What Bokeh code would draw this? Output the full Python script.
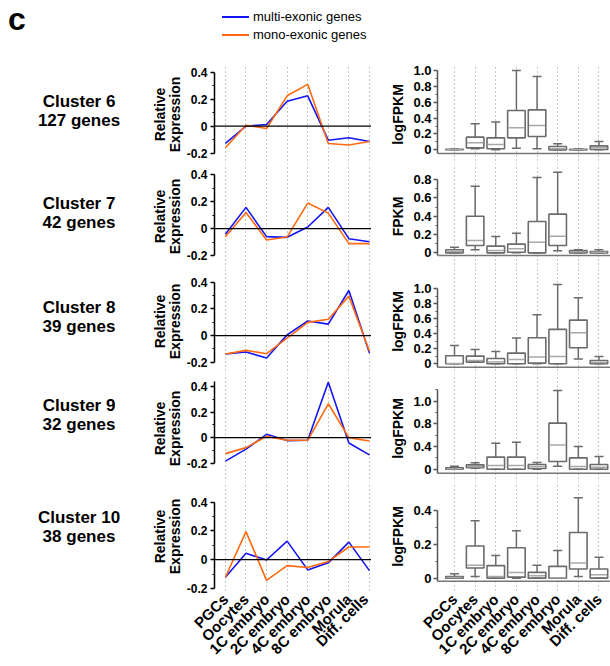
from math import pi
from bokeh.plotting import figure
from bokeh.models import Range1d, FixedTicker, Span, Div, ColumnDataSource
from bokeh.layouts import row, column
from bokeh.embed import file_html
from bokeh.resources import INLINE

# ---------------- data ----------------
stages = ["PGCs", "Oocytes", "1C embryo", "2C embryo", "4C embryo", "8C embryo", "Morula", "Diff. cells"]
clusters = ["Cluster 6", "Cluster 7", "Cluster 8", "Cluster 9", "Cluster 10"]
gene_counts = [127, 42, 39, 32, 38]
series_names = ["multi-exonic genes", "mono-exonic genes"]
box_ylabels = ["logFPKM", "FPKM", "logFPKM", "logFPKM", "logFPKM"]

multi_c6 = [-0.128, 0.0, 0.012, 0.185, 0.225, -0.104, -0.086, -0.114]
mono_c6 = [-0.16, 0.007, -0.017, 0.225, 0.31, -0.128, -0.14, -0.114]
multi_c7 = [-0.042, 0.158, -0.06, -0.065, 0.012, 0.158, -0.075, -0.098]
mono_c7 = [-0.06, 0.12, -0.085, -0.062, 0.19, 0.115, -0.112, -0.112]
multi_c8 = [-0.138, -0.123, -0.168, 0.005, 0.109, 0.086, 0.338, -0.13]
mono_c8 = [-0.138, -0.111, -0.136, -0.02, 0.099, 0.123, 0.296, -0.118]
multi_c9 = [-0.184, -0.09, 0.026, -0.023, -0.021, 0.434, -0.042, -0.135]
mono_c9 = [-0.125, -0.078, 0.01, -0.021, -0.021, 0.265, 0.0, -0.026]
multi_c10 = [-0.122, 0.044, -0.002, 0.129, -0.071, -0.022, 0.122, -0.076]
mono_c10 = [-0.122, 0.195, -0.144, -0.041, -0.054, -0.012, 0.088, 0.088]

# box plots: lower whisker, Q1, median, Q3, upper whisker
box_c6_low = [0.0, 0.013, 0.0, 0.021, 0.013, 0.0, 0.0, 0.0]
box_c6_q1 = [0.001, 0.025, 0.013, 0.151, 0.168, 0.0, 0.0, 0.004]
box_c6_med = [0.004, 0.088, 0.067, 0.277, 0.307, 0.013, 0.004, 0.025]
box_c6_q3 = [0.008, 0.16, 0.151, 0.496, 0.504, 0.042, 0.008, 0.05]
box_c6_high = [0.012, 0.328, 0.35, 1.0, 0.924, 0.076, 0.013, 0.105]

box_c7_low = [0.0, 0.033, 0.0, 0.0, 0.0, 0.022, 0.0, 0.0]
box_c7_q1 = [0.0, 0.08, 0.0, 0.007, 0.0, 0.08, 0.0, 0.0]
box_c7_med = [0.015, 0.135, 0.025, 0.044, 0.116, 0.182, 0.011, 0.006]
box_c7_q3 = [0.033, 0.4, 0.073, 0.095, 0.342, 0.422, 0.025, 0.015]
box_c7_high = [0.062, 0.727, 0.178, 0.215, 0.822, 0.88, 0.033, 0.033]

box_c8_low = [0.0, 0.022, 0.0, 0.0, 0.0, 0.0, 0.062, 0.0]
box_c8_q1 = [0.0, 0.022, 0.0, 0.0, 0.009, 0.0, 0.213, 0.0]
box_c8_med = [0.005, 0.044, 0.022, 0.058, 0.089, 0.098, 0.413, 0.018]
box_c8_q3 = [0.107, 0.102, 0.071, 0.142, 0.347, 0.458, 0.582, 0.044]
box_c8_high = [0.244, 0.191, 0.164, 0.342, 0.653, 1.058, 0.88, 0.098]

box_c9_low = [0.0, 0.018, 0.0, 0.0, 0.0, 0.053, 0.0, 0.0]
box_c9_q1 = [0.0, 0.024, 0.0, 0.0, 0.012, 0.135, 0.0, 0.0]
box_c9_med = [0.006, 0.041, 0.065, 0.065, 0.047, 0.429, 0.047, 0.035]
box_c9_q3 = [0.024, 0.076, 0.212, 0.212, 0.082, 0.812, 0.2, 0.082]
box_c9_high = [0.053, 0.112, 0.459, 0.476, 0.118, 1.388, 0.4, 0.224]

box_c10_low = [0.0, 0.01, 0.0, 0.0, 0.0, 0.0, 0.01, 0.0]
box_c10_q1 = [0.0, 0.06, 0.0, 0.006, 0.0, 0.0, 0.054, 0.0]
box_c10_med = [0.004, 0.076, 0.01, 0.034, 0.014, 0.002, 0.09, 0.02]
box_c10_q3 = [0.01, 0.19, 0.074, 0.18, 0.034, 0.07, 0.27, 0.054]
box_c10_high = [0.026, 0.34, 0.134, 0.28, 0.076, 0.164, 0.476, 0.124]

line_ticks = [-0.2, 0, 0.2, 0.4]
line_tick_labels = ["-0.2", "0", "0.2", "0.4"]
line_minor = [-0.1, 0.1, 0.3]

box_ticks = [[0, 0.2, 0.4, 0.6, 0.8, 1.0], [0, 0.2, 0.4, 0.6, 0.8], [0, 0.2, 0.4, 0.6, 0.8, 1.0],
             [0, 0.4, 0.8, 1.2], [0, 0.2, 0.4]]
box_tick_labels = [["0", "0.2", "0.4", "0.6", "0.8", "1.0"], ["0", "0.2", "0.4", "0.6", "0.8"],
                   ["0", "0.2", "0.4", "0.6", "0.8", "1.0"], ["0", "0.4", "0.8", "1.0"], ["0", "0.2", "0.4"]]
box_minor = [[0.1, 0.3, 0.5, 0.7, 0.9], [0.1, 0.3, 0.5, 0.7], [0.1, 0.3, 0.5, 0.7, 0.9],
             [0.2, 0.6, 1.0, 1.4], [0.1, 0.3]]

multi = [multi_c6, multi_c7, multi_c8, multi_c9, multi_c10]
mono = [mono_c6, mono_c7, mono_c8, mono_c9, mono_c10]
box_low = [box_c6_low, box_c7_low, box_c8_low, box_c9_low, box_c10_low]
box_q1 = [box_c6_q1, box_c7_q1, box_c8_q1, box_c9_q1, box_c10_q1]
box_med = [box_c6_med, box_c7_med, box_c8_med, box_c9_med, box_c10_med]
box_q3 = [box_c6_q3, box_c7_q3, box_c8_q3, box_c9_q3, box_c10_q3]
box_high = [box_c6_high, box_c7_high, box_c8_high, box_c9_high, box_c10_high]

# ---------------- style / layout ----------------
FONT = "Liberation Sans"
CSS_FONT = "'Liberation Sans',Arial,sans-serif"
BLUE = "#1414f5"
ORANGE = "#ff6a10"
BOX_C = "#6b6b6b"
MED_C = "#a8a8a8"
GRID_C = "#8c8c8c"

row_heights = [100, 104, 106, 108, 112]
header_h = 64
footer_h = 72
line_yranges = [(-0.284, 0.457), (-0.297, 0.477), (-0.292, 0.503), (-0.351, 0.494), (-0.214, 0.536)]
line_bounds = [(-0.2, 0.4), (-0.2, 0.4), (-0.2, 0.4), (-0.2, 0.44), (-0.2, 0.4)]
box_yranges = [(-0.185, 1.076), (-0.171, 0.964), (-0.143, 1.27), (-0.235, 1.671), (-0.073, 0.566)]
box_bounds = [(-0.047, 1.0), (-0.03, 0.8), (-0.045, 1.0), (-0.07, 1.4), (-0.018, 0.4)]
label_tops = [28, 130, 234, 332, 444]

x_idx = list(range(len(stages)))
stage_overrides = {i: s for i, s in enumerate(stages)}


def style_common(p, show_x):
    p.outline_line_color = None
    p.ygrid.visible = False
    p.xgrid.ticker = FixedTicker(ticks=x_idx)
    p.xgrid.grid_line_color = GRID_C
    p.xgrid.grid_line_dash = "1 3"
    p.xgrid.grid_line_width = 1
    xa = p.xaxis[0]
    xa.ticker = FixedTicker(ticks=x_idx)
    if show_x:
        xa.major_label_overrides = stage_overrides
        xa.major_label_orientation = pi / 4
        xa.axis_line_color = None
        xa.major_tick_line_color = None
        xa.minor_tick_line_color = None
        xa.major_label_standoff = 0
        xa.major_label_text_font = FONT
        xa.major_label_text_font_size = "15px"
        xa.major_label_text_font_style = "bold"
        xa.major_label_text_color = "black"
    else:
        xa.visible = False


def make_line_fig(i):
    bottom = footer_h if i == 4 else 0
    p = figure(width=223, height=row_heights[i] + bottom,
               x_range=Range1d(-0.53, 7.1), y_range=Range1d(*line_yranges[i]),
               output_backend="svg", toolbar_location=None,
               min_border_left=65, min_border_right=0, min_border_top=0, min_border_bottom=bottom)
    style_common(p, i == 4)
    ya = p.yaxis[0]
    ya.ticker = FixedTicker(ticks=line_ticks, minor_ticks=line_minor)
    ya.major_label_overrides = {t: l for t, l in zip(line_ticks, line_tick_labels)}
    ya.bounds = line_bounds[i]
    ya.axis_line_color = "black"
    ya.axis_line_width = 1.5
    ya.major_tick_line_color = "black"
    ya.major_tick_line_width = 1.5
    ya.major_tick_out = 4
    ya.major_tick_in = 0
    ya.minor_tick_line_color = "black"
    ya.minor_tick_out = 2
    ya.minor_tick_in = 0
    ya.major_label_standoff = 3
    ya.major_label_text_font = FONT
    ya.major_label_text_font_size = "12px"
    ya.major_label_text_font_style = "bold"
    ya.major_label_text_color = "black"
    ya.axis_label = "Relative\nExpression"
    ya.axis_label_text_font = FONT
    ya.axis_label_text_font_size = "14px"
    ya.axis_label_text_font_style = "bold"
    ya.axis_label_text_color = "black"
    ya.axis_label_text_line_height = 0.95
    ya.axis_label_standoff = 1
    p.add_layout(Span(location=0, dimension="width", line_color="black", line_width=1.3))
    p.line(x_idx, multi[i], line_color=BLUE, line_width=1.6)
    p.line(x_idx, mono[i], line_color=ORANGE, line_width=1.6)
    return p


def make_box_fig(i):
    bottom = footer_h if i == 4 else 0
    p = figure(width=239, height=row_heights[i] + bottom,
               x_range=Range1d(-0.824, 7.56), y_range=Range1d(*box_yranges[i]),
               output_backend="svg", toolbar_location=None,
               min_border_left=66, min_border_right=0, min_border_top=0, min_border_bottom=bottom)
    style_common(p, i == 4)
    ya = p.yaxis[0]
    ya.ticker = FixedTicker(ticks=box_ticks[i], minor_ticks=box_minor[i])
    ya.major_label_overrides = {t: l for t, l in zip(box_ticks[i], box_tick_labels[i])}
    ya.bounds = box_bounds[i]
    ya.axis_line_color = "#555555"
    ya.axis_line_width = 1.5
    ya.major_tick_line_color = "#555555"
    ya.major_tick_line_width = 1.5
    ya.major_tick_out = 4
    ya.major_tick_in = 0
    ya.minor_tick_line_color = "#555555"
    ya.minor_tick_out = 2
    ya.minor_tick_in = 0
    ya.major_label_standoff = 2
    ya.major_label_text_font = FONT
    ya.major_label_text_font_size = "13px"
    ya.major_label_text_font_style = "bold"
    ya.major_label_text_color = "black"
    ya.axis_label = box_ylabels[i]
    ya.axis_label_text_font = FONT
    ya.axis_label_text_font_size = "14px"
    ya.axis_label_text_font_style = "bold"
    ya.axis_label_text_color = "black"
    ya.axis_label_standoff = 4
    src = ColumnDataSource(dict(x=x_idx, lo=box_low[i], q1=box_q1[i], med=box_med[i],
                                q3=box_q3[i], hi=box_high[i]))
    p.segment(x0="x", y0="q3", x1="x", y1="hi", source=src, line_color=BOX_C, line_width=1.5)
    p.segment(x0="x", y0="lo", x1="x", y1="q1", source=src, line_color=BOX_C, line_width=1.5)
    p.vbar(x="x", width=0.85, bottom="q1", top="q3", source=src,
           fill_color="white", line_color=BOX_C, line_width=1.6)
    p.scatter(x="x", y="hi", source=src, marker="dash", size=9, line_color=BOX_C, line_width=1.5)
    p.scatter(x="x", y="lo", source=src, marker="dash", size=9, line_color=BOX_C, line_width=1.5)
    p.scatter(x="x", y="med", source=src, marker="dash", size=16, line_color=MED_C, line_width=1.5)
    p.add_layout(Span(location=box_bounds[i][0], dimension="width", line_color="#777777", line_width=1.5))
    return p


# header: panel letter and legend
hdr = (f'<div style="position:relative;width:610px;height:{header_h}px;'
       f'font-family:{CSS_FONT};color:#000;">')
hdr += ('<div style="position:absolute;left:8px;top:3px;font-size:32px;line-height:32px;'
        'font-weight:bold;">c</div>')
for k, (name, col) in enumerate(zip(series_names, [BLUE, ORANGE])):
    yc = 17 + 18 * k
    hdr += (f'<div style="position:absolute;left:222px;top:{yc - 1}px;width:27px;height:2px;'
            f'background:{col};"></div>')
    hdr += (f'<div style="position:absolute;left:253px;top:{yc - 9}px;height:18px;line-height:18px;'
            f'font-size:13px;white-space:nowrap;">{name}</div>')
hdr += '</div>'
header = Div(text=hdr, width=610, height=header_h, margin=0)

body_h = sum(row_heights) + footer_h
html = (f'<div style="position:relative;width:148px;height:{body_h}px;'
        f'font-family:{CSS_FONT};color:#000;">')
for i, (c, n) in enumerate(zip(clusters, gene_counts)):
    html += (f'<div style="position:absolute;left:8px;width:142px;top:{label_tops[i]}px;'
             f'text-align:center;font-size:17px;line-height:19px;font-weight:bold;">'
             f'{c}<br>{n} genes</div>')
html += '</div>'
labels = Div(text=html, width=148, height=body_h, margin=0)

line_col = column(*[make_line_fig(i) for i in range(5)], spacing=0)
box_col = column(*[make_box_fig(i) for i in range(5)], spacing=0)
layout = column(header, row(labels, line_col, box_col, spacing=0), spacing=0)

open("out.html", "w").write(file_html(layout, INLINE))
